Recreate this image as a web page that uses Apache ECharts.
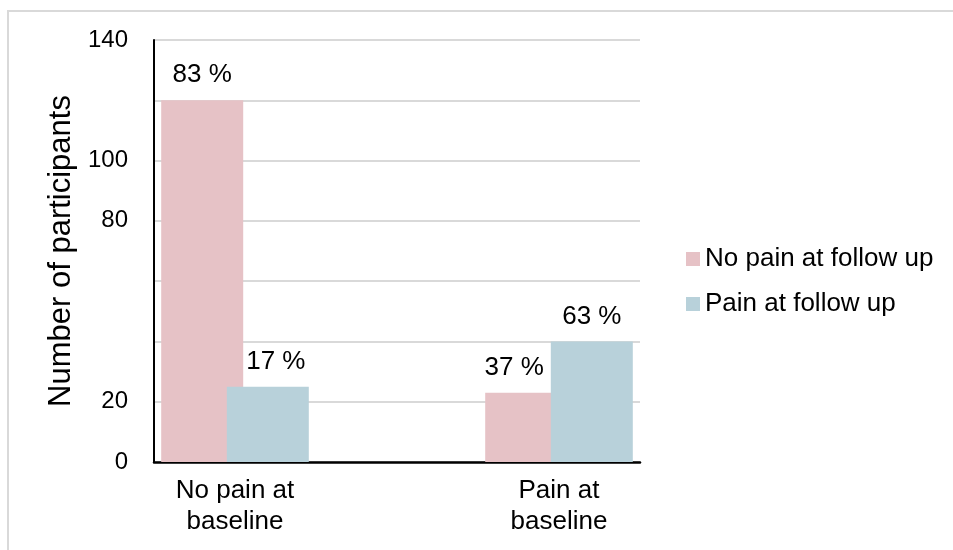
<!DOCTYPE html>
<html>
<head>
<meta charset="utf-8">
<script src="https://cdn.jsdelivr.net/npm/echarts@6/dist/echarts.min.js"></script>
<style>
  html, body { margin: 0; padding: 0; background: #fff; }
  #frame { position: absolute; left: 7px; top: 10px; width: 1000px; height: 600px; border-left: 2px solid #D9D9D9; border-top: 2px solid #D9D9D9; }
  #chart { position: absolute; left: 0; top: 0; width: 953px; height: 550px; }
</style>
</head>
<body>
<div id="frame"></div>
<div id="chart"></div>
<script>
const categories = ['No pain at\nbaseline', 'Pain at\nbaseline'];
const seriesNames = ['No pain at follow up', 'Pain at follow up'];
const noPainFollowUp = [120, 23];
const painFollowUp = [25, 40];
const noPainPct = ['83 %', '37 %'];
const painPct = ['17 %', '63 %'];
const yTickLabels = [0, 20, 80, 100, 140];

// category axis with an empty spacer band between the two groups
const axisCats = [categories[0], '', categories[1]];
function spread(arr) { return [arr[0], null, arr[1]]; }

const FONT = 'Liberation Sans, Arial, sans-serif';
const chart = echarts.init(document.getElementById('chart'));

function mkData(vals, pcts, offsets) {
  const s = spread(vals);
  const p = spread(pcts);
  return s.map((v, i) => v == null ? null : {
    value: v,
    label: { formatter: p[i], offset: offsets[i] || [0, 0] }
  });
}

chart.setOption({
  animation: false,
  backgroundColor: 'transparent',
  grid: { left: 154, top: 40, right: 313, bottom: 88, containLabel: false },
  legend: {
    orient: 'vertical',
    left: 681,
    top: 241,
    itemWidth: 14,
    itemHeight: 14,
    itemGap: 19,
    icon: 'rect',
    textStyle: { fontFamily: FONT, fontSize: 26, color: '#000', lineHeight: 26 },
    data: seriesNames
  },
  xAxis: {
    type: 'category',
    data: axisCats,
    axisTick: { show: false },
    axisLine: { lineStyle: { color: '#000', width: 2.5 } },
    axisLabel: { interval: 0, fontFamily: FONT, fontSize: 26, color: '#000', lineHeight: 31, margin: 13 }
  },
  yAxis: {
    type: 'value',
    min: 0, max: 140, interval: 20,
    name: 'Number of participants',
    nameLocation: 'middle',
    nameGap: 59,
    nameTextStyle: { fontFamily: FONT, fontSize: 31, color: '#000' },
    axisLine: { show: true, lineStyle: { color: '#000', width: 2 } },
    axisTick: { show: false },
    splitLine: { lineStyle: { color: '#D9D9D9', width: 2 } },
    axisLabel: {
      fontFamily: FONT, fontSize: 24, color: '#000', margin: 26,
      formatter: v => yTickLabels.includes(v) ? String(v) : ''
    }
  },
  series: [
    {
      name: seriesNames[0], type: 'bar', barWidth: 82, barGap: '-20%',
      itemStyle: { color: '#E6C2C6' },
      label: { show: true, position: 'top', distance: 12, fontFamily: FONT, fontSize: 26, color: '#000' },
      data: mkData(noPainFollowUp, noPainPct, [[0, 0], null, [-12, 0]])
    },
    {
      name: seriesNames[1], type: 'bar', barWidth: 82, barGap: '-20%',
      itemStyle: { color: '#B8D1DA' },
      label: { show: true, position: 'top', distance: 12, fontFamily: FONT, fontSize: 26, color: '#000' },
      data: mkData(painFollowUp, painPct, [[8, 0], null, [0, 0]])
    }
  ]
});
</script>
</body>
</html>
